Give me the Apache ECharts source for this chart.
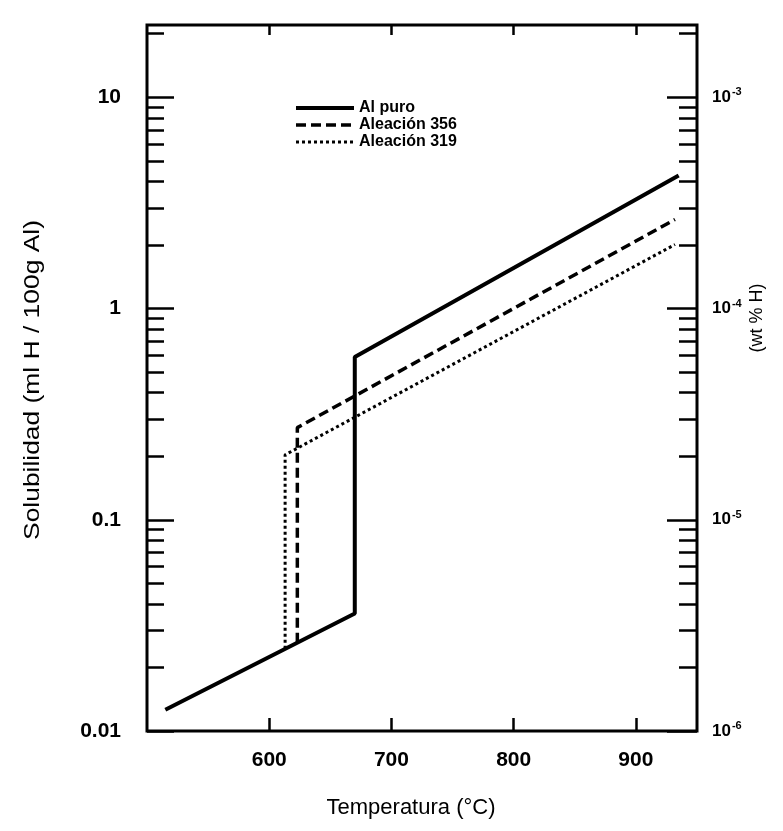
<!DOCTYPE html>
<html>
<head>
<meta charset="utf-8">
<script src="https://cdn.jsdelivr.net/npm/echarts@6/dist/echarts.min.js"></script>
<style>
html, body { margin: 0; padding: 0; background: #fff; }
#main { width: 783px; height: 831px; }
</style>
</head>
<body>
<div id="main"></div>
<script>
// valores (T en °C, solubilidad en ml H / 100g Al)
var tempAlPuro = [515, 670, 670, 935];
var solAlPuro = [0.0126, 0.036, 0.59, 4.27];
var temp356 = [623, 623, 932];
var sol356 = [0.0262, 0.273, 2.64];
var temp319 = [613, 613, 932];
var sol319 = [0.0245, 0.203, 2.01];

// etiquetas de los ejes
var tempTicks = [600, 700, 800, 900];
var solTicks = [0.01, 0.1, 1, 10];
var wtTicks = [1e-6, 1e-5, 1e-4, 1e-3];
var minorSteps = [2, 3, 4, 5, 6, 7, 8, 9];

function pairs(xs, ys) {
    return xs.map(function (x, i) { return [x, ys[i]]; });
}
function minorTicks(decades) {
    var out = [];
    decades.forEach(function (d) {
        minorSteps.forEach(function (m) { out.push(d * m); });
    });
    return out;
}

var font = 'Liberation Sans, Arial, sans-serif';
var myChart = echarts.init(document.getElementById('main'));

var option = {
    backgroundColor: '#fff',
    animation: false,
    textStyle: { fontFamily: font, color: '#000' },
    grid: {
        left: 147, right: 86, top: 25, bottom: 100,
        show: true, borderColor: '#000', borderWidth: 3
    },
    legend: {
        left: 289, top: 95, orient: 'vertical',
        itemWidth: 58, itemHeight: 15, itemGap: 1,
        itemStyle: { opacity: 0 },
        textStyle: { fontFamily: font, fontSize: 16, fontWeight: 'bold', color: '#000' },
        data: [
            { name: 'Al puro', lineStyle: { width: 4 } },
            { name: 'Aleación 356', lineStyle: { width: 3.5 } },
            { name: 'Aleación 319', lineStyle: { width: 3 } }
        ]
    },
    xAxis: [{
        type: 'value', position: 'bottom', min: 500, max: 950, interval: 100,
        axisLine: { show: false },
        splitLine: { show: false },
        axisTick: { inside: true, length: 13, lineStyle: { color: '#000', width: 2.5 }, customValues: tempTicks },
        axisLabel: { margin: 19, fontSize: 21, fontWeight: 'bold', color: '#000', customValues: tempTicks }
    }, {
        type: 'value', position: 'top', min: 500, max: 950, interval: 100,
        axisLine: { show: false },
        splitLine: { show: false },
        axisTick: { inside: true, length: 10, lineStyle: { color: '#000', width: 2.5 }, customValues: tempTicks },
        axisLabel: { show: false }
    }],
    yAxis: [{
        type: 'log', logBase: 10, position: 'left', min: 0.01, max: 22,
        axisLine: { show: false },
        splitLine: { show: false },
        axisTick: { inside: true, length: 27, lineStyle: { color: '#000', width: 2.5 }, customValues: solTicks },
        axisLabel: { margin: 26, fontSize: 21, fontWeight: 'bold', color: '#000', customValues: solTicks,
            formatter: function (v) { return String(+v.toPrecision(3)); } }
    }, {
        type: 'log', logBase: 10, position: 'left', min: 0.01, max: 22,
        axisLine: { show: false },
        splitLine: { show: false },
        axisTick: { inside: true, length: 17, lineStyle: { color: '#000', width: 2.5 }, customValues: minorTicks([0.01, 0.1, 1, 10]) },
        axisLabel: { show: false }
    }, {
        type: 'log', logBase: 10, position: 'right', min: 1e-6, max: 22e-4,
        axisLine: { show: false },
        splitLine: { show: false },
        axisTick: { inside: true, length: 30, lineStyle: { color: '#000', width: 2.5 }, customValues: wtTicks },
        axisLabel: {
            margin: 15, fontSize: 17, fontWeight: 'bold', color: '#000', customValues: wtTicks,
            formatter: function (v) { return '10{s|' + Math.round(Math.log10(v)) + '}'; },
            rich: { s: { fontSize: 11, fontWeight: 'bold', verticalAlign: 'top', padding: [0, 0, 10, 1] } }
        }
    }, {
        type: 'log', logBase: 10, position: 'right', min: 1e-6, max: 22e-4,
        axisLine: { show: false },
        splitLine: { show: false },
        axisTick: { inside: true, length: 18, lineStyle: { color: '#000', width: 2.5 }, customValues: minorTicks([1e-6, 1e-5, 1e-4, 1e-3]) },
        axisLabel: { show: false }
    }],
    graphic: [{
        type: 'text', x: 411, y: 808,
        style: { text: 'Temperatura (°C)', font: '22px ' + font, fill: '#000',
            textAlign: 'center', textVerticalAlign: 'middle' }
    }, {
        type: 'text', x: 33, y: 380, rotation: Math.PI / 2, scaleX: 1.2,
        style: { text: 'Solubilidad (ml H / 100g Al)', font: '22px ' + font, fill: '#000',
            textAlign: 'center', textVerticalAlign: 'middle' }
    }, {
        type: 'text', x: 757, y: 318, rotation: Math.PI / 2,
        style: { text: '(wt % H)', font: '18px ' + font, fill: '#000',
            textAlign: 'center', textVerticalAlign: 'middle' }
    }],
    series: [{
        name: 'Al puro', type: 'line', xAxisIndex: 0, yAxisIndex: 0,
        symbol: 'none', z: 5,
        itemStyle: { color: '#000' },
        lineStyle: { color: '#000', width: 4, type: 'solid' },
        data: pairs(tempAlPuro, solAlPuro)
    }, {
        name: 'Aleación 356', type: 'line', xAxisIndex: 0, yAxisIndex: 0,
        symbol: 'none', z: 4,
        itemStyle: { color: '#000' },
        lineStyle: { color: '#000', width: 3.5, type: [10, 5] },
        data: pairs(temp356, sol356)
    }, {
        name: 'Aleación 319', type: 'line', xAxisIndex: 0, yAxisIndex: 0,
        symbol: 'none', z: 3,
        itemStyle: { color: '#000' },
        lineStyle: { color: '#000', width: 3, type: [3, 3] },
        data: pairs(temp319, sol319)
    }]
};

myChart.setOption(option);
</script>
</body>
</html>
